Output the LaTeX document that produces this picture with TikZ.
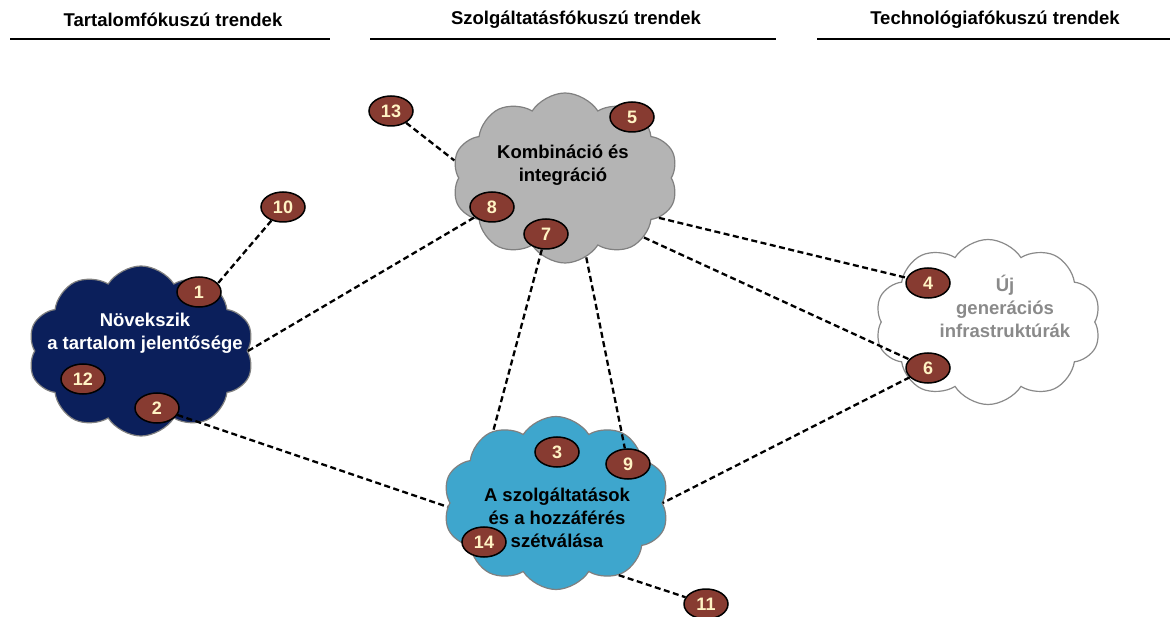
\documentclass[tikz,border=0pt]{standalone}
\usepackage{fontspec}
\setmainfont{Liberation Sans}
\usetikzlibrary{shapes.symbols, shapes.geometric}
\pgfdeclarelayer{front}
\pgfsetlayers{main,front}
\definecolor{navy}{HTML}{0B1F5B}
\definecolor{cloudgray}{HTML}{B4B4B4}
\definecolor{cloudblue}{HTML}{3EA6CD}
\definecolor{cloudline}{HTML}{808080}
\definecolor{badgered}{HTML}{873B31}
\definecolor{badgetext}{HTML}{FFF3C4}
\definecolor{infragray}{HTML}{8A8A8A}
\tikzset{
  trendcloud/.style={cloud, cloud puffs=10, cloud puff arc=115, cloud ignores aspect,
    draw=cloudline, line width=1.2pt, minimum width=226pt, minimum height=170pt, inner sep=0pt},
  badge/.style={ellipse, draw=black, line width=1.5pt, fill=badgered, text=badgetext,
    minimum width=44pt, minimum height=30pt, inner sep=0pt, font=\fontsize{18}{18}\selectfont\bfseries},
  link/.style={dash pattern=on 6pt off 3.5pt, line width=2.3pt},
  heading/.style={font=\fontsize{18.5}{20}\selectfont\bfseries},
  cloudtext/.style={align=center, font=\fontsize{18.5}{23}\selectfont\bfseries}
}
\begin{document}
\begin{tikzpicture}[x=1pt, y=-1pt]
  \useasboundingbox (0,0) rectangle (1170,617);
  % headings
  \node[heading] (h1) at (173,20) {Tartalomfókuszú trendek};
  \node[heading] (h2) at (576,20) {Szolgáltatásfókuszú trendek};
  \node[heading] (h3) at (995,20) {Technológiafókuszú trendek};
  \draw[line width=2pt] (10,39) -- (330,39);
  \draw[line width=2pt] (370,39) -- (776,39);
  \draw[line width=2pt] (817,39) -- (1170,39);
  % clouds
  \node[trendcloud, fill=navy] (tartalom) at (141,351) {};
  \node[trendcloud, fill=cloudgray] (kombinacio) at (565,178) {};
  \node[trendcloud, fill=white, draw=infragray, minimum height=165pt] (ujgen) at (988,322) {};
  \node[trendcloud, fill=cloudblue, minimum height=173pt] (szetvalas) at (556,503) {};
  \node[cloudtext, text=white] (tartalomtxt) at (145,333) {Növekszik\\a tartalom jelentősége};
  \node[cloudtext] (kombinaciotxt) at (563,165) {Kombináció és\\integráció};
  \node[cloudtext, text=infragray] (ujgentxt) at (1005,306) {Új\\generációs\\infrastruktúrák};
  \node[cloudtext] (szetvalastxt) at (557,518) {A szolgáltatások\\és a hozzáférés\\szétválása};
  % numbered badges
  \begin{pgfonlayer}{front}
    \node[badge] (n1) at (199,292) {1};
    \node[badge] (n2) at (157,408) {2};
    \node[badge] (n3) at (557,452) {3};
    \node[badge] (n4) at (928,283) {4};
    \node[badge] (n5) at (632,117) {5};
    \node[badge] (n6) at (928,368) {6};
    \node[badge] (n7) at (546,234) {7};
    \node[badge] (n8) at (492,207) {8};
    \node[badge] (n9) at (628,464) {9};
    \node[badge] (n10) at (283,207) {10};
    \node[badge] (n11) at (706,604) {11};
    \node[badge] (n12) at (83,379) {12};
    \node[badge] (n13) at (391,111) {13};
    \node[badge] (n14) at (484,542) {14};
  \end{pgfonlayer}
  % dashed links
  \draw[link] (n10) -- (tartalom.41);
  \draw[link] (tartalom.east) -- (n8);
  \draw[link] (n2) -- (szetvalas.182);
  \draw[link] (n13) -- (kombinacio.171);
  \draw[link] (n7) -- (szetvalas.131);
  \draw[link] (kombinacio.-75) -- (n9);
  \draw[link] (kombinacio.-23) -- (n4);
  \draw[link] (kombinacio.-37) -- (n6);
  \draw[link] (n6) -- (szetvalas.east);
  \draw[link] (szetvalas.-49) -- (n11);
\end{tikzpicture}
\end{document}
